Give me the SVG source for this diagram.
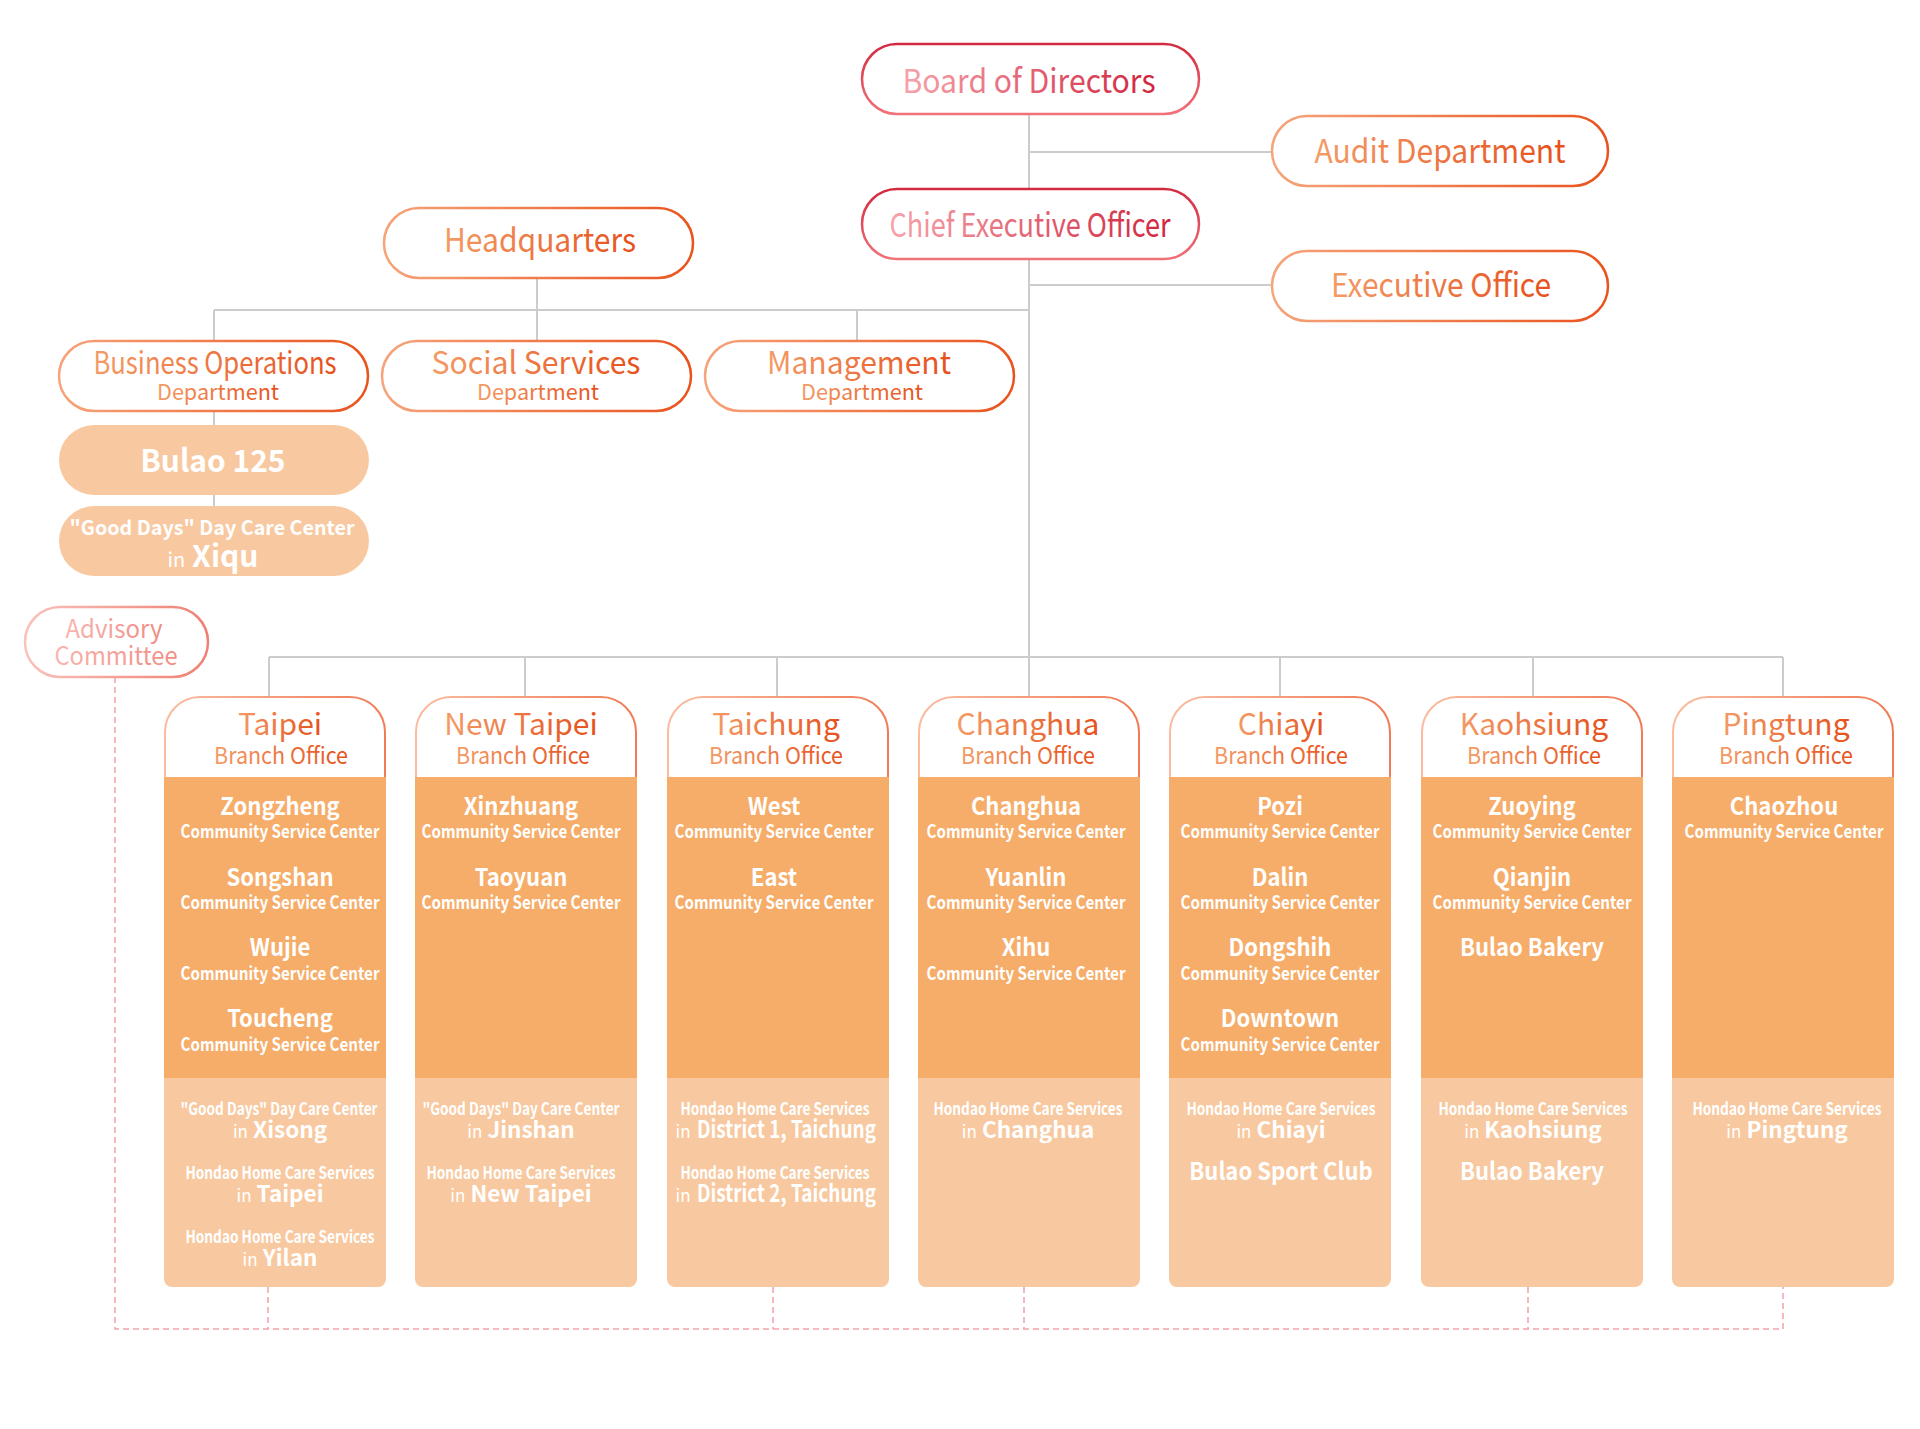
<svg xmlns="http://www.w3.org/2000/svg" width="1920" height="1429" viewBox="0 0 1920 1429">
<defs>
<linearGradient id="gRedS" x1="0" y1="0" x2="0" y2="1"><stop offset="0" stop-color="#d22a40"/><stop offset="1" stop-color="#f07279"/></linearGradient>
<linearGradient id="gRedT" x1="0" y1="0" x2="1" y2="0"><stop offset="0" stop-color="#f6a3ab"/><stop offset="1" stop-color="#d0243c"/></linearGradient>
<linearGradient id="gOrgS" x1="0" y1="0" x2="1" y2="0"><stop offset="0" stop-color="#f6a47a"/><stop offset="1" stop-color="#e9531d"/></linearGradient>
<linearGradient id="gOrgT" x1="0" y1="0" x2="1" y2="0"><stop offset="0" stop-color="#f49b66"/><stop offset="1" stop-color="#e6501c"/></linearGradient>
<linearGradient id="gHeadS" x1="0" y1="0" x2="1" y2="0"><stop offset="0" stop-color="#fabca0"/><stop offset="1" stop-color="#f07c56"/></linearGradient>
<linearGradient id="gPinkS" x1="0" y1="0" x2="1" y2="0"><stop offset="0" stop-color="#f9c3bc"/><stop offset="1" stop-color="#ef7f72"/></linearGradient>
<linearGradient id="gPinkT" x1="0" y1="0" x2="1" y2="0"><stop offset="0" stop-color="#f8b6b0"/><stop offset="1" stop-color="#ef8c82"/></linearGradient>
</defs>
<style>
text{font-family:"Noto Sans CJK TC","Noto Sans",sans-serif;text-anchor:middle}
.pill{fill:#fff;stroke-width:2.5}
.red{stroke:url(#gRedS)}
.org{stroke:url(#gOrgS)}
.pink{stroke:url(#gPinkS)}
.tred{fill:url(#gRedT)}
.torg{fill:url(#gOrgT)}
.tpink{fill:url(#gPinkT)}
.big{font-size:33px}
.d1{font-size:31px}
.d2{font-size:22px}
.head{fill:#fff;stroke:url(#gHeadS);stroke-width:2}
.body{fill:#f6ad6a}
.light{fill:#f8c9a0}
.city{font-size:30px}
.bo{font-size:23px}
.w{fill:#fff}
.nm{font-size:24px;font-weight:700}
.nm2{font-size:22.5px;font-weight:700}
.cx{transform-box:fill-box;transform-origin:center;transform:scaleX(.92)}
.csc{font-size:18px;font-weight:700}
.hd{font-size:17px;font-weight:700}
.in{font-size:17px;font-weight:400}
.conn{fill:none;stroke:#cccccc;stroke-width:2}
.dash{fill:none;stroke:#f2a3a8;stroke-width:1.5;stroke-dasharray:6 4}
</style>
<rect width="1920" height="1429" fill="#fff"/>
<g id="connectors">
<path class="conn" d="M1029 114V188M1029 259V657M1029 152H1271M1029 285H1272M214 310H1029M214 310V340M214 411V425M214 495V507M537 279V340M857 310V340M269 657H1783M269 657V697M525 657V697M777 657V697M1029 657V697M1280 657V697M1533 657V697M1783 657V697"/>
<path class="dash" d="M115 677V1329H1783V1287M268 1287V1329M773 1287V1329M1024 1287V1329M1528 1287V1329"/>
</g>
<g id="board"><rect class="pill red" x="862" y="44" width="337" height="70" rx="35"/><text class="big tred" x="1029" y="92.5" textLength="253" lengthAdjust="spacingAndGlyphs">Board of Directors</text></g>
<g id="audit"><rect class="pill org" x="1272" y="116" width="336" height="70" rx="35"/><text class="big torg" x="1440" y="163" textLength="251" lengthAdjust="spacingAndGlyphs">Audit Department</text></g>
<g id="ceo"><rect class="pill red" x="862" y="189" width="337" height="70" rx="35"/><text class="big tred" x="1030" y="236.5" textLength="281" lengthAdjust="spacingAndGlyphs">Chief Executive Officer</text></g>
<g id="exec"><rect class="pill org" x="1272" y="251" width="336" height="70" rx="35"/><text class="big torg" x="1441" y="297" textLength="220" lengthAdjust="spacingAndGlyphs">Executive Office</text></g>
<g id="hq"><rect class="pill org" x="384" y="208" width="309" height="70" rx="35"/><text class="big torg" x="540" y="252" textLength="192" lengthAdjust="spacingAndGlyphs">Headquarters</text></g>
<g id="bizops"><rect class="pill org" x="59" y="341" width="309" height="70" rx="35"/><text class="d1 torg" x="215" y="374" textLength="243" lengthAdjust="spacingAndGlyphs">Business Operations</text><text class="d2 torg" x="218" y="399.5" textLength="122" lengthAdjust="spacingAndGlyphs">Department</text></g>
<g id="social"><rect class="pill org" x="382" y="341" width="309" height="70" rx="35"/><text class="d1 torg" x="536" y="374" textLength="209" lengthAdjust="spacingAndGlyphs">Social Services</text><text class="d2 torg" x="538" y="399.5" textLength="122" lengthAdjust="spacingAndGlyphs">Department</text></g>
<g id="mgmt"><rect class="pill org" x="705" y="341" width="309" height="70" rx="35"/><text class="d1 torg" x="859" y="374" textLength="184" lengthAdjust="spacingAndGlyphs">Management</text><text class="d2 torg" x="862" y="399.5" textLength="122" lengthAdjust="spacingAndGlyphs">Department</text></g>
<g id="bulao125"><rect class="light" x="59" y="425" width="310" height="70" rx="35"/><text class="w" x="213" y="471.5" font-size="31" font-weight="700" textLength="145" lengthAdjust="spacingAndGlyphs">Bulao 125</text></g>
<g id="xiqu"><rect class="light" x="59" y="506" width="310" height="70" rx="35"/><text class="w" x="212" y="535" font-size="20" font-weight="700" textLength="285" lengthAdjust="spacingAndGlyphs">"Good Days" Day Care Center</text><text class="w" x="213" y="566.5"><tspan font-size="20">in</tspan><tspan font-size="30" font-weight="700"> Xiqu</tspan></text></g>
<g id="advisory"><rect class="pill pink" x="25" y="607" width="183" height="70" rx="35"/><text class="tpink" x="114" y="638" font-size="25" textLength="97" lengthAdjust="spacingAndGlyphs">Advisory</text><text class="tpink" x="116" y="665" font-size="25" textLength="123" lengthAdjust="spacingAndGlyphs">Committee</text></g>

<g id="taipei">
<path class="light" d="M164 1078H386V1279A8 8 0 0 1 378 1287H172A8 8 0 0 1 164 1279Z"/><rect class="body" x="164" y="777" width="222" height="301"/>
<path class="head" d="M165 777V732A35 35 0 0 1 200 697H350A35 35 0 0 1 385 732V777"/>
<text class="city torg" x="280" y="735">Taipei</text><text class="bo torg" x="281" y="764" textLength="134" lengthAdjust="spacingAndGlyphs">Branch Office</text>
<text class="w nm cx" x="280" y="815">Zongzheng</text><text class="w csc" x="280" y="838" textLength="199" lengthAdjust="spacingAndGlyphs">Community Service Center</text>
<text class="w nm cx" x="280" y="885.7">Songshan</text><text class="w csc" x="280" y="909" textLength="199" lengthAdjust="spacingAndGlyphs">Community Service Center</text>
<text class="w nm cx" x="280" y="956.4">Wujie</text><text class="w csc" x="280" y="980" textLength="199" lengthAdjust="spacingAndGlyphs">Community Service Center</text>
<text class="w nm cx" x="280" y="1027">Toucheng</text><text class="w csc" x="280" y="1051" textLength="199" lengthAdjust="spacingAndGlyphs">Community Service Center</text>
<text class="w hd" x="279" y="1115" textLength="197" lengthAdjust="spacingAndGlyphs">"Good Days" Day Care Center</text><text class="w" x="280" y="1138"><tspan class="in">in</tspan><tspan class="nm2"> Xisong</tspan></text>
<text class="w hd" x="280" y="1179" textLength="189" lengthAdjust="spacingAndGlyphs">Hondao Home Care Services</text><text class="w" x="280" y="1202"><tspan class="in">in</tspan><tspan class="nm2"> Taipei</tspan></text>
<text class="w hd" x="280" y="1243" textLength="189" lengthAdjust="spacingAndGlyphs">Hondao Home Care Services</text><text class="w" x="280" y="1266"><tspan class="in">in</tspan><tspan class="nm2"> Yilan</tspan></text>
</g>

<g id="newtaipei">
<path class="light" d="M415 1078H637V1279A8 8 0 0 1 629 1287H423A8 8 0 0 1 415 1279Z"/><rect class="body" x="415" y="777" width="222" height="301"/>
<path class="head" d="M416 777V732A35 35 0 0 1 451 697H601A35 35 0 0 1 636 732V777"/>
<text class="city torg" x="521" y="735">New Taipei</text><text class="bo torg" x="523" y="764" textLength="134" lengthAdjust="spacingAndGlyphs">Branch Office</text>
<text class="w nm cx" x="521" y="815">Xinzhuang</text><text class="w csc" x="521" y="838" textLength="199" lengthAdjust="spacingAndGlyphs">Community Service Center</text>
<text class="w nm cx" x="521" y="885.7">Taoyuan</text><text class="w csc" x="521" y="909" textLength="199" lengthAdjust="spacingAndGlyphs">Community Service Center</text>
<text class="w hd" x="521" y="1115" textLength="197" lengthAdjust="spacingAndGlyphs">"Good Days" Day Care Center</text><text class="w" x="521" y="1138"><tspan class="in">in</tspan><tspan class="nm2"> Jinshan</tspan></text>
<text class="w hd" x="521" y="1179" textLength="189" lengthAdjust="spacingAndGlyphs">Hondao Home Care Services</text><text class="w" x="521" y="1202"><tspan class="in">in</tspan><tspan class="nm2"> New Taipei</tspan></text>
</g>

<g id="taichung">
<path class="light" d="M667 1078H889V1279A8 8 0 0 1 881 1287H675A8 8 0 0 1 667 1279Z"/><rect class="body" x="667" y="777" width="222" height="301"/>
<path class="head" d="M668 777V732A35 35 0 0 1 703 697H853A35 35 0 0 1 888 732V777"/>
<text class="city torg" x="776" y="735">Taichung</text><text class="bo torg" x="776" y="764" textLength="134" lengthAdjust="spacingAndGlyphs">Branch Office</text>
<text class="w nm cx" x="774" y="815">West</text><text class="w csc" x="774" y="838" textLength="199" lengthAdjust="spacingAndGlyphs">Community Service Center</text>
<text class="w nm cx" x="774" y="885.7">East</text><text class="w csc" x="774" y="909" textLength="199" lengthAdjust="spacingAndGlyphs">Community Service Center</text>
<text class="w hd" x="775" y="1115" textLength="189" lengthAdjust="spacingAndGlyphs">Hondao Home Care Services</text>
<text class="w in" x="683" y="1138">in</text><text class="w nm" x="786.5" y="1138" textLength="179" lengthAdjust="spacingAndGlyphs">District 1, Taichung</text>
<text class="w hd" x="775" y="1179" textLength="189" lengthAdjust="spacingAndGlyphs">Hondao Home Care Services</text>
<text class="w in" x="683" y="1202">in</text><text class="w nm" x="786.5" y="1202" textLength="179" lengthAdjust="spacingAndGlyphs">District 2, Taichung</text>
</g>

<g id="changhua">
<path class="light" d="M918 1078H1140V1279A8 8 0 0 1 1132 1287H926A8 8 0 0 1 918 1279Z"/><rect class="body" x="918" y="777" width="222" height="301"/>
<path class="head" d="M919 777V732A35 35 0 0 1 954 697H1104A35 35 0 0 1 1139 732V777"/>
<text class="city torg" x="1028" y="735">Changhua</text><text class="bo torg" x="1028" y="764" textLength="134" lengthAdjust="spacingAndGlyphs">Branch Office</text>
<text class="w nm cx" x="1026" y="815">Changhua</text><text class="w csc" x="1026" y="838" textLength="199" lengthAdjust="spacingAndGlyphs">Community Service Center</text>
<text class="w nm cx" x="1026" y="885.7">Yuanlin</text><text class="w csc" x="1026" y="909" textLength="199" lengthAdjust="spacingAndGlyphs">Community Service Center</text>
<text class="w nm cx" x="1026" y="956.4">Xihu</text><text class="w csc" x="1026" y="980" textLength="199" lengthAdjust="spacingAndGlyphs">Community Service Center</text>
<text class="w hd" x="1028" y="1115" textLength="189" lengthAdjust="spacingAndGlyphs">Hondao Home Care Services</text><text class="w" x="1028" y="1138"><tspan class="in">in</tspan><tspan class="nm2"> Changhua</tspan></text>
</g>

<g id="chiayi">
<path class="light" d="M1169 1078H1391V1279A8 8 0 0 1 1383 1287H1177A8 8 0 0 1 1169 1279Z"/><rect class="body" x="1169" y="777" width="222" height="301"/>
<path class="head" d="M1170 777V732A35 35 0 0 1 1205 697H1355A35 35 0 0 1 1390 732V777"/>
<text class="city torg" x="1281" y="735">Chiayi</text><text class="bo torg" x="1281" y="764" textLength="134" lengthAdjust="spacingAndGlyphs">Branch Office</text>
<text class="w nm cx" x="1280" y="815">Pozi</text><text class="w csc" x="1280" y="838" textLength="199" lengthAdjust="spacingAndGlyphs">Community Service Center</text>
<text class="w nm cx" x="1280" y="885.7">Dalin</text><text class="w csc" x="1280" y="909" textLength="199" lengthAdjust="spacingAndGlyphs">Community Service Center</text>
<text class="w nm cx" x="1280" y="956.4">Dongshih</text><text class="w csc" x="1280" y="980" textLength="199" lengthAdjust="spacingAndGlyphs">Community Service Center</text>
<text class="w nm cx" x="1280" y="1027">Downtown</text><text class="w csc" x="1280" y="1051" textLength="199" lengthAdjust="spacingAndGlyphs">Community Service Center</text>
<text class="w hd" x="1281" y="1115" textLength="189" lengthAdjust="spacingAndGlyphs">Hondao Home Care Services</text><text class="w" x="1281" y="1138"><tspan class="in">in</tspan><tspan class="nm2"> Chiayi</tspan></text>
<text class="w nm cx" x="1281" y="1180">Bulao Sport Club</text>
</g>

<g id="kaohsiung">
<path class="light" d="M1421 1078H1643V1279A8 8 0 0 1 1635 1287H1429A8 8 0 0 1 1421 1279Z"/><rect class="body" x="1421" y="777" width="222" height="301"/>
<path class="head" d="M1422 777V732A35 35 0 0 1 1457 697H1607A35 35 0 0 1 1642 732V777"/>
<text class="city torg" x="1534" y="735">Kaohsiung</text><text class="bo torg" x="1534" y="764" textLength="134" lengthAdjust="spacingAndGlyphs">Branch Office</text>
<text class="w nm cx" x="1532" y="815">Zuoying</text><text class="w csc" x="1532" y="838" textLength="199" lengthAdjust="spacingAndGlyphs">Community Service Center</text>
<text class="w nm cx" x="1532" y="885.7">Qianjin</text><text class="w csc" x="1532" y="909" textLength="199" lengthAdjust="spacingAndGlyphs">Community Service Center</text>
<text class="w nm cx" x="1532" y="956.4">Bulao Bakery</text>
<text class="w hd" x="1533" y="1115" textLength="189" lengthAdjust="spacingAndGlyphs">Hondao Home Care Services</text><text class="w" x="1533" y="1138"><tspan class="in">in</tspan><tspan class="nm2"> Kaohsiung</tspan></text>
<text class="w nm cx" x="1532" y="1180">Bulao Bakery</text>
</g>

<g id="pingtung">
<path class="light" d="M1672 1078H1894V1279A8 8 0 0 1 1886 1287H1680A8 8 0 0 1 1672 1279Z"/><rect class="body" x="1672" y="777" width="222" height="301"/>
<path class="head" d="M1673 777V732A35 35 0 0 1 1708 697H1858A35 35 0 0 1 1893 732V777"/>
<text class="city torg" x="1786" y="735">Pingtung</text><text class="bo torg" x="1786" y="764" textLength="134" lengthAdjust="spacingAndGlyphs">Branch Office</text>
<text class="w nm cx" x="1784" y="815">Chaozhou</text><text class="w csc" x="1784" y="838" textLength="199" lengthAdjust="spacingAndGlyphs">Community Service Center</text>
<text class="w hd" x="1787" y="1115" textLength="189" lengthAdjust="spacingAndGlyphs">Hondao Home Care Services</text><text class="w" x="1787" y="1138"><tspan class="in">in</tspan><tspan class="nm2"> Pingtung</tspan></text>
</g>
</svg>
